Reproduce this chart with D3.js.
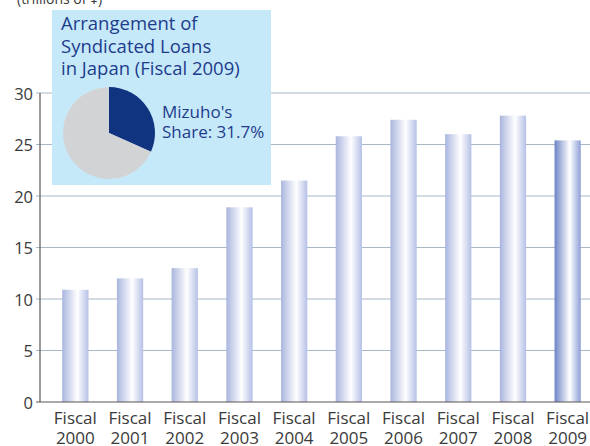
<!DOCTYPE html>
<html lang="en">
<head>
  <meta charset="UTF-8">
  <title>Syndicated Loans</title>
  <style>
    * { margin: 0; padding: 0; box-sizing: border-box; }
    body { background: #fff; font-family: "Open Sans", Arial, sans-serif; }
  </style>
</head>
<body>
  <div id="chart"></div>
  <script src="https://d3js.org/d3.v7.min.js"></script>
  <script>
    // Data
    const years = ["2000", "2001", "2002", "2003", "2004", "2005", "2006", "2007", "2008", "2009"];
    const values = [10.9, 12.0, 13.0, 18.9, 21.5, 25.8, 27.4, 26.0, 27.8, 25.4];
    const yTicks = [0, 5, 10, 15, 20, 25, 30];
    const unitLabel = "(trillions of ¥)";
    const insetTitle = ["Arrangement of", "Syndicated Loans", "in Japan (Fiscal 2009)"];
    const shareLabel = ["Mizuho's", "Share: 31.7%"];
    const share = [31.7, 68.3];

    const width = 590, height = 446;
    const svg = d3.select("#chart").append("svg")
      .attr("width", width)
      .attr("height", height);

    // gradients for the bars
    const defs = svg.append("defs");
    function barGradient(id, edge, right) {
      const g = defs.append("linearGradient").attr("id", id)
        .attr("x1", "0%").attr("x2", "100%").attr("y1", "0%").attr("y2", "0%");
      g.append("stop").attr("offset", "0%").attr("stop-color", edge);
      g.append("stop").attr("offset", "58%").attr("stop-color", "#ffffff");
      g.append("stop").attr("offset", "100%").attr("stop-color", right);
    }
    barGradient("barNormal", "#a9b5de", "#b5c0e6");
    barGradient("barLast", "#6c85c6", "#8d9fd6");

    const x = d3.scaleBand()
      .domain(years)
      .range([48, 595])
      .paddingInner(0.52)
      .paddingOuter(0.26);

    const y = d3.scaleLinear()
      .domain([0, 30])
      .range([402, 93]);

    // gridlines
    svg.append("g")
      .selectAll("line")
      .data(yTicks.filter(d => d > 0))
      .join("line")
      .attr("x1", 36).attr("x2", width)
      .attr("y1", d => y(d)).attr("y2", d => y(d))
      .attr("stroke", "#a6b7c7")
      .attr("stroke-width", 1);

    // bars
    svg.append("g")
      .selectAll("rect")
      .data(years)
      .join("rect")
      .attr("x", d => x(d))
      .attr("width", x.bandwidth())
      .attr("y", (d, i) => y(values[i]))
      .attr("height", (d, i) => y(0) - y(values[i]))
      .attr("fill", (d, i) => i === years.length - 1 ? "url(#barLast)" : "url(#barNormal)");

    // axes lines
    svg.append("line")
      .attr("x1", 40).attr("x2", 40)
      .attr("y1", y(30)).attr("y2", y(0))
      .attr("stroke", "#5a5552").attr("stroke-width", 1.2);
    svg.append("line")
      .attr("x1", 36).attr("x2", width)
      .attr("y1", y(0)).attr("y2", y(0))
      .attr("stroke", "#5a5552").attr("stroke-width", 1.2);

    // y tick labels
    svg.append("g")
      .selectAll("text")
      .data(yTicks)
      .join("text")
      .attr("x", 33)
      .attr("y", d => y(d))
      .attr("dy", "0.4em")
      .attr("text-anchor", "end")
      .attr("font-size", 16.5)
      .attr("fill", "#3a3a3a")
      .text(d => d);

    // x labels
    const xl = svg.append("g")
      .selectAll("text")
      .data(years)
      .join("text")
      .attr("text-anchor", "middle")
      .attr("font-size", 17)
      .attr("fill", "#3a3a3a");
    xl.append("tspan")
      .attr("x", d => x(d) + x.bandwidth() / 2)
      .attr("y", 424)
      .text("Fiscal");
    xl.append("tspan")
      .attr("x", d => x(d) + x.bandwidth() / 2)
      .attr("y", 444)
      .text(d => d);

    // unit label (cut off at the top)
    svg.append("text")
      .attr("x", 17).attr("y", 3.5)
      .attr("font-size", 14)
      .attr("fill", "#3a3a3a")
      .text(unitLabel);

    // inset box with pie
    svg.append("rect")
      .attr("x", 52).attr("y", 10)
      .attr("width", 219).attr("height", 175)
      .attr("fill", "#c6e9f9");

    svg.append("g")
      .selectAll("text")
      .data(insetTitle)
      .join("text")
      .attr("x", 61)
      .attr("y", (d, i) => 30 + i * 22.5)
      .attr("font-size", 18.5)
      .attr("fill", "#1d3c8c")
      .text(d => d);

    const pie = d3.pie().sort(null)(share);
    const arc = d3.arc().innerRadius(0).outerRadius(46);
    svg.append("g")
      .attr("transform", "translate(109,133)")
      .selectAll("path")
      .data(pie)
      .join("path")
      .attr("d", arc)
      .attr("fill", (d, i) => i === 0 ? "#10347f" : "#d2d3d5");

    svg.append("g")
      .selectAll("text")
      .data(shareLabel)
      .join("text")
      .attr("x", 162)
      .attr("y", (d, i) => 118 + i * 20)
      .attr("font-size", 17)
      .attr("fill", "#1d3c8c")
      .text(d => d);
  </script>
</body>
</html>
